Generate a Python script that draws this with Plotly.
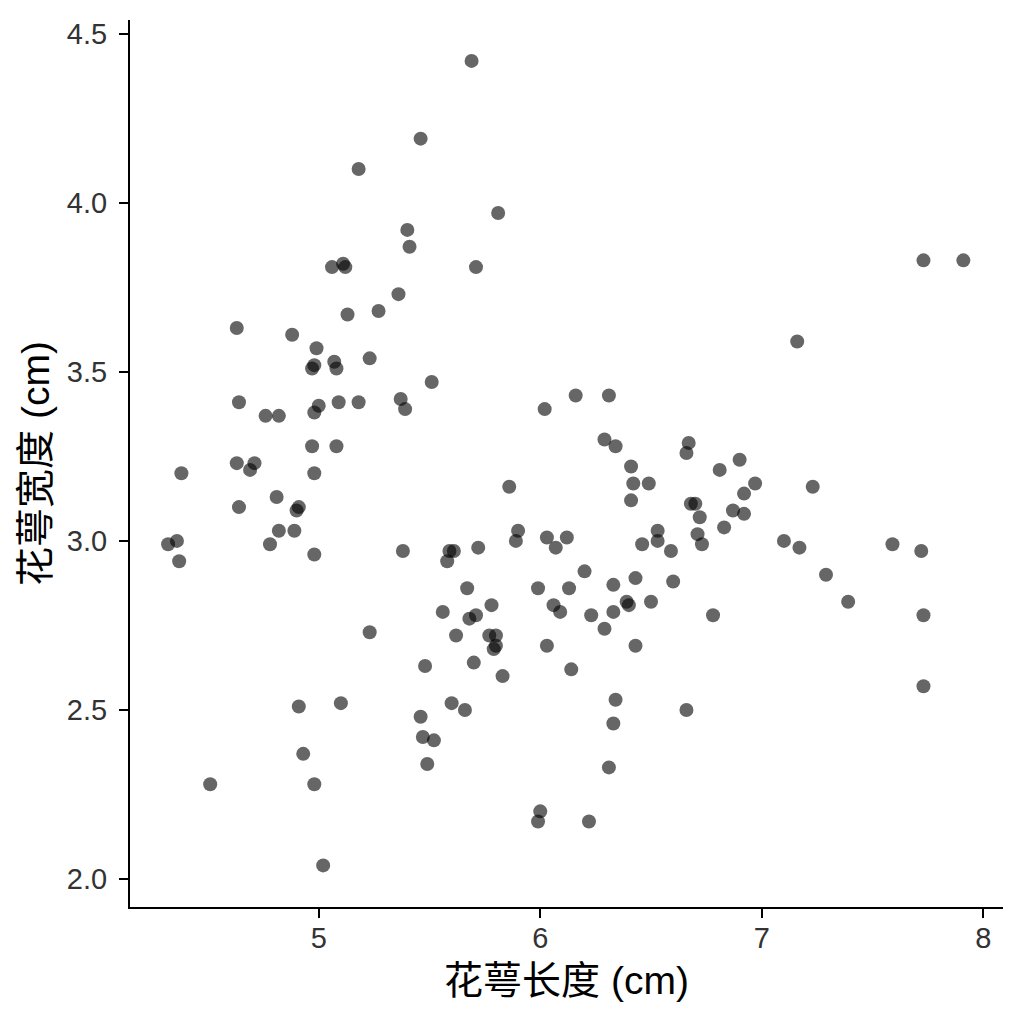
import plotly.graph_objects as go

# Sepal length (cm) (jittered iris data)
sepal_length = [
    5.46, 5.18, 5.40, 5.41, 5.06, 5.11, 5.12, 5.36, 5.13, 5.27,
    5.69, 5.81, 5.71, 7.73, 7.91,
    4.63, 4.88, 4.99, 4.97, 4.98, 5.07, 5.08, 5.23, 5.51, 4.64,
    4.76, 4.82, 5.00, 4.98, 5.09, 5.18, 5.37, 5.39, 4.97, 5.08,
    4.38, 4.63, 4.71, 4.69, 4.98, 4.81, 4.91, 4.90, 4.64, 4.82,
    4.89, 4.78, 4.36, 4.32, 4.37, 4.98, 5.38,
    6.02, 6.16, 6.31, 6.29, 6.34, 6.67, 6.66, 6.81, 6.41, 6.42,
    6.49, 6.41, 5.86, 6.68, 6.70, 6.72, 6.83, 6.71, 6.73, 6.53,
    6.53, 6.46, 6.59, 5.90, 5.89, 6.03, 6.12, 6.07, 5.59, 5.61,
    5.58, 5.72, 6.20, 5.67, 5.99, 6.13, 6.33, 6.43, 6.60, 5.78,
    5.56, 6.06, 6.09, 6.39, 6.40, 6.50, 6.23, 6.33, 6.78, 5.71,
    5.68,
    7.16, 6.90, 6.97, 6.92, 6.87, 6.92, 7.23, 7.10, 7.17, 7.59,
    7.72, 7.29, 7.39, 7.73,
    5.23, 5.48, 4.91, 5.10, 5.46, 5.47, 5.52, 5.49, 4.93, 4.51,
    4.98, 5.02,
    5.62, 5.77, 5.80, 5.80, 5.79, 6.29, 6.03, 6.43, 5.70, 5.83,
    6.14, 5.60, 5.66, 6.34, 6.33, 6.66, 6.31, 6.00, 5.99, 6.22,
    7.73,
]

# Sepal width (cm)
sepal_width = [
    4.19, 4.10, 3.92, 3.87, 3.81, 3.82, 3.81, 3.73, 3.67, 3.68,
    4.42, 3.97, 3.81, 3.83, 3.83,
    3.63, 3.61, 3.57, 3.51, 3.52, 3.53, 3.51, 3.54, 3.47, 3.41,
    3.37, 3.37, 3.40, 3.38, 3.41, 3.41, 3.42, 3.39, 3.28, 3.28,
    3.20, 3.23, 3.23, 3.21, 3.20, 3.13, 3.10, 3.09, 3.10, 3.03,
    3.03, 2.99, 3.00, 2.99, 2.94, 2.96, 2.97,
    3.39, 3.43, 3.43, 3.30, 3.28, 3.29, 3.26, 3.21, 3.22, 3.17,
    3.17, 3.12, 3.16, 3.11, 3.11, 3.07, 3.04, 3.02, 2.99, 3.03,
    3.00, 2.99, 2.97, 3.03, 3.00, 3.01, 3.01, 2.98, 2.97, 2.97,
    2.94, 2.98, 2.91, 2.86, 2.86, 2.86, 2.87, 2.89, 2.88, 2.81,
    2.79, 2.81, 2.79, 2.82, 2.81, 2.82, 2.78, 2.79, 2.78, 2.78,
    2.77,
    3.59, 3.24, 3.17, 3.14, 3.09, 3.08, 3.16, 3.00, 2.98, 2.99,
    2.97, 2.90, 2.82, 2.78,
    2.73, 2.63, 2.51, 2.52, 2.48, 2.42, 2.41, 2.34, 2.37, 2.28,
    2.28, 2.04,
    2.72, 2.72, 2.72, 2.69, 2.68, 2.74, 2.69, 2.69, 2.64, 2.60,
    2.62, 2.52, 2.50, 2.53, 2.46, 2.50, 2.33, 2.20, 2.17, 2.17,
    2.57,
]

x_ticks = [5, 6, 7, 8]
y_ticks = [2.0, 2.5, 3.0, 3.5, 4.0, 4.5]
x_title = "花萼长度 (cm)"
y_title = "花萼宽度 (cm)"

fig = go.Figure(
    go.Scatter(
        x=sepal_length,
        y=sepal_width,
        mode="markers",
        marker=dict(size=14, color="rgba(0,0,0,0.6)", line=dict(width=0)),
        hoverinfo="x+y",
    )
)

tick_font = dict(family="Liberation Sans, Arial, sans-serif", size=29, color="#333333")
title_font = dict(family="Liberation Sans, Noto Sans CJK SC, sans-serif", size=39, color="black")

fig.update_layout(
    width=1024,
    height=1024,
    margin=dict(l=122, r=29, t=12, b=125, autoexpand=False),
    paper_bgcolor="white",
    plot_bgcolor="white",
    showlegend=False,
    xaxis=dict(
        range=[4.148, 8.089],
        tickvals=x_ticks,
        ticktext=[str(v) for v in x_ticks],
        showgrid=False,
        zeroline=False,
        showline=True,
        linecolor="black",
        linewidth=2,
        ticks="outside",
        ticklen=9,
        tickwidth=2,
        tickcolor="black",
        tickfont=tick_font,
        ticklabelstandoff=-5,
        automargin=False,
        title=dict(text=x_title, font=title_font, standoff=14),
    ),
    yaxis=dict(
        range=[1.917, 4.541],
        tickvals=y_ticks,
        ticktext=[f"{v:.1f}" for v in y_ticks],
        showgrid=False,
        zeroline=False,
        showline=True,
        linecolor="black",
        linewidth=2,
        ticks="outside",
        ticklen=9,
        tickwidth=2,
        tickcolor="black",
        tickfont=tick_font,
        ticklabelstandoff=6,
        automargin=False,
        title=dict(text=y_title, font=title_font, standoff=5),
    ),
)

fig.write_html("out.html")
